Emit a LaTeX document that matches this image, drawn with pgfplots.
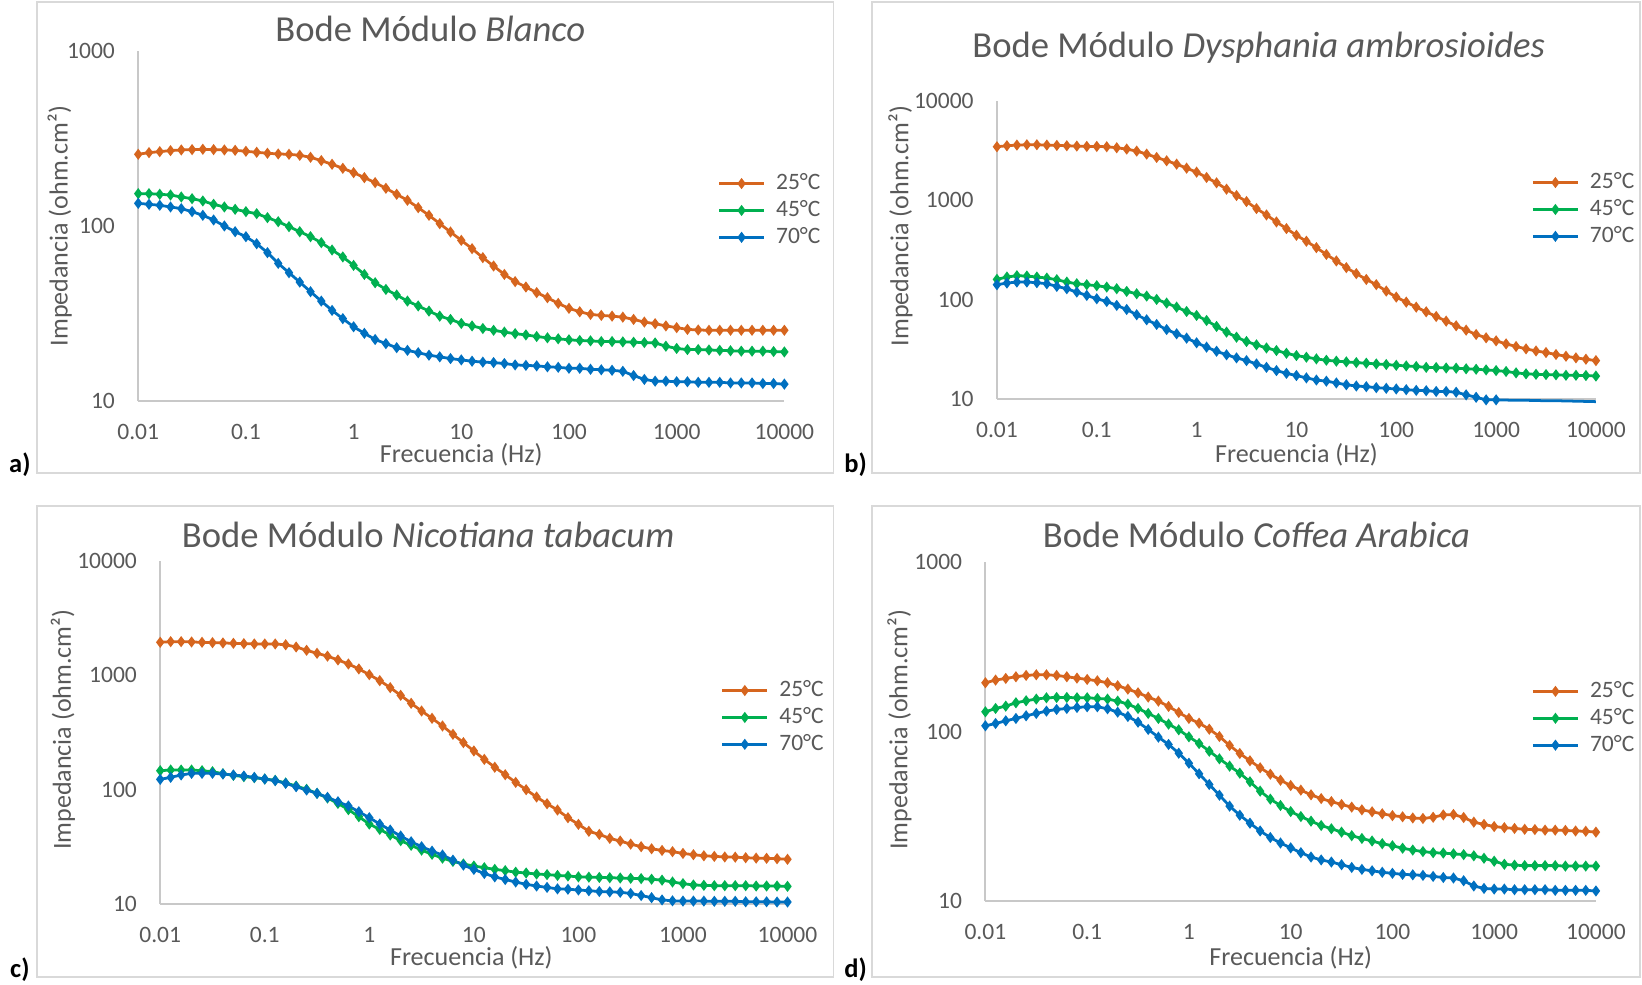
\documentclass[border=0pt]{standalone}
\usepackage{fontspec}
\setmainfont{Carlito}
\usepackage{pgfplots}
\usepackage{pgfplotstable}
\pgfplotsset{compat=1.18}

\definecolor{cA}{RGB}{214,101,30}
\definecolor{cB}{RGB}{0,176,80}
\definecolor{cC}{RGB}{0,112,192}
\definecolor{txtgray}{RGB}{89,89,89}
\definecolor{axisgray}{RGB}{200,200,200}
\definecolor{framegray}{RGB}{217,217,217}

\pgfplotstableread{
f t25 t45 t70
0.01 257.7 153.5 135.1
0.012589 263.4 153.5 133.4
0.015849 266.9 152.2 131.7
0.019953 270.5 150.8 128.8
0.025119 272.9 146.9 126.0
0.031623 274.1 143.7 121.1
0.039811 275.3 139.4 115.4
0.050119 274.1 133.4 108.5
0.063096 272.9 128.8 100.3
0.079433 271.6 124.9 93.0
0.1 268.1 121.1 87.1
0.12589 264.6 117.9 79.4
0.15849 261.2 111.9 70.6
0.19953 258.8 106.1 61.3
0.25119 257.7 99.4 54.2
0.31623 254.3 93.0 47.9
0.39811 247.7 87.1 42.2
0.50119 237.1 80.5 37.3
0.63096 225.9 73.1 33.0
0.79433 214.3 66.7 29.6
1 202.4 59.7 26.6
1.2589 189.5 53.0 24.4
1.5849 177.5 47.5 22.5
1.9953 164.7 43.5 21.3
2.5119 152.2 40.4 20.2
3.1623 140.6 37.3 19.5
3.9811 127.6 35.0 18.9
5.0119 115.4 32.7 18.3
6.3096 103.4 30.6 17.9
7.9433 92.6 29.3 17.5
10 83.0 27.8 17.2
12.589 74.4 26.9 16.9
15.849 66.1 26.0 16.7
19.953 59.2 25.4 16.6
25.119 53.0 24.8 16.4
31.623 48.2 24.3 16.1
39.811 44.9 23.9 16.0
50.119 41.7 23.4 15.9
63.096 39.0 23.0 15.7
79.433 36.2 22.7 15.6
100 33.9 22.4 15.4
125.89 32.4 22.2 15.4
158.49 31.3 22.1 15.2
199.53 30.9 21.9 15.1
251.19 30.6 21.9 15.0
316.23 30.2 21.8 14.8
398.11 29.3 21.7 14.0
501.19 28.3 21.6 13.3
630.96 27.7 21.5 13.0
794.33 26.9 20.6 13.0
1000 26.3 20.0 12.9
1258.9 25.7 19.7 12.9
1584.9 25.5 19.7 12.8
1995.3 25.4 19.6 12.8
2511.9 25.4 19.5 12.8
3162.3 25.4 19.4 12.7
3981.1 25.4 19.3 12.7
5011.9 25.4 19.3 12.7
6309.6 25.4 19.3 12.6
7943.3 25.4 19.2 12.6
10000 25.4 19.1 12.5
}\tabA

\pgfplotstableread{
f t25 t45 t70
0.01 3430 159.3 140.8
0.012589 3511 168.2 146.3
0.015849 3565 173.4 149.7
0.019953 3593 172.1 149.7
0.025119 3593 168.2 147.5
0.031623 3565 164.3 144.0
0.039811 3538 158.1 135.4
0.050119 3511 149.7 128.3
0.063096 3484 144.0 118.7
0.079433 3457 140.8 109.9
0.1 3457 137.5 101.7
0.12589 3430 133.3 95.6
0.15849 3352 128.3 87.2
0.19953 3250 120.6 79.4
0.25119 3102 114.2 70.2
0.31623 2894 108.2 62.5
0.39811 2678 100.2 56.1
0.50119 2479 92.0 49.9
0.63096 2294 83.8 45.2
0.79433 2091 75.8 40.9
1 1906 69.1 36.7
1.2589 1684 61.5 33.2
1.5849 1488 53.6 30.2
1.9953 1285 47.0 27.8
2.5119 1109 41.8 25.9
3.1623 965 37.8 24.3
3.9811 820 35.0 22.5
5.0119 708 32.6 20.8
6.3096 602 30.7 19.3
7.9433 516 28.8 18.1
10 442 27.3 17.2
12.589 385 26.3 16.3
15.849 332 25.3 15.5
19.953 284 24.5 15.1
25.119 244 24.0 14.5
31.623 209 23.6 13.9
39.811 182 23.2 13.5
50.119 159 22.9 13.3
63.096 141 22.5 13.0
79.433 121.5 22.2 12.8
100 105.7 21.8 12.6
125.89 94.1 21.5 12.4
158.49 83.8 21.2 12.2
199.53 75.2 20.8 12.1
251.19 67.5 20.7 11.9
316.23 60.6 20.5 11.9
398.11 54.4 20.4 11.7
501.19 49.2 20.1 11.0
630.96 44.5 19.9 10.4
794.33 41.2 19.6 9.8
1000 38.4 19.3 9.8
1258.9 35.8 18.9 9.75
1584.9 33.7 18.3 9.7
1995.3 31.9 17.9 9.7
2511.9 30.4 17.7 9.65
3162.3 29.3 17.6 9.6
3981.1 28.0 17.5 9.6
5011.9 26.9 17.3 9.55
6309.6 25.9 17.3 9.5
7943.3 25.1 17.2 9.45
10000 24.3 17.0 9.4
}\tabB

\pgfplotstableread{
f t25 t45 t70
0.01 1952 146.4 122.9
0.012589 1978 148.4 128.0
0.015849 1978 148.4 134.2
0.019953 1965 148.4 138.8
0.025119 1952 146.4 138.8
0.031623 1939 143.5 138.8
0.039811 1926 137.8 136.9
0.050119 1913 133.3 134.2
0.063096 1900 129.8 131.5
0.079433 1887 127.2 128.0
0.1 1887 123.8 123.8
0.12589 1887 120.5 119.7
0.15849 1856 114.2 113.4
0.19953 1776 107.5 106.0
0.25119 1661 100.5 99.1
0.31623 1563 92.7 92.7
0.39811 1476 84.4 85.5
0.50119 1367 75.7 78.3
0.63096 1260 66.7 71.8
0.79433 1140 57.9 64.0
1 1016 49.9 56.7
1.2589 900 44.8 49.9
1.5849 782 40.0 44.2
1.9953 670 35.7 39.2
2.5119 570 32.5 34.9
3.1623 488 29.5 31.6
3.9811 421 27.1 28.9
5.0119 361 25.1 26.7
6.3096 305 23.5 24.1
7.9433 258 22.3 21.8
10 218 21.4 20.0
12.589 184 20.7 18.4
15.849 157 20.0 17.2
19.953 135 19.5 16.3
25.119 115.7 18.9 15.5
31.623 99.8 18.6 14.8
39.811 86.1 18.2 14.3
50.119 75.2 18.0 13.9
63.096 66.2 17.7 13.5
79.433 56.7 17.5 13.4
100 49.6 17.2 13.2
125.89 43.1 17.1 13.0
158.49 40.5 17.0 12.8
199.53 37.4 16.9 12.7
251.19 35.4 16.8 12.6
316.23 33.3 16.7 12.3
398.11 31.6 16.6 11.8
501.19 30.3 16.4 11.3
630.96 29.3 16.1 10.8
794.33 28.6 15.5 10.6
1000 27.6 15.0 10.55
1258.9 26.9 14.6 10.55
1584.9 26.3 14.5 10.55
1995.3 26.0 14.4 10.5
2511.9 25.7 14.4 10.5
3162.3 25.6 14.4 10.5
3981.1 25.3 14.4 10.4
5011.9 25.1 14.3 10.4
6309.6 25.0 14.3 10.4
7943.3 24.8 14.3 10.35
10000 24.5 14.2 10.35
}\tabC

\pgfplotstableread{
f t25 t45 t70
0.01 194.1 130.7 108.0
0.012589 201.3 136.8 111.5
0.015849 205.9 141.2 115.6
0.019953 210.6 147.8 119.4
0.025119 214.5 151.9 123.8
0.031623 216.4 155.4 127.8
0.039811 216.4 158.2 131.9
0.050119 214.5 158.9 134.9
0.063096 210.6 158.9 136.8
0.079433 206.8 158.2 138.7
0.1 203.1 158.2 140.0
0.12589 199.4 156.8 140.0
0.15849 194.1 155.4 136.2
0.19953 186.3 151.2 130.1
0.25119 178.0 145.1 122.7
0.31623 169.3 136.8 113.5
0.39811 159.7 127.8 102.8
0.50119 151.2 119.4 92.6
0.63096 140.6 110.5 83.8
0.79433 129.5 102.3 74.4
1 119.4 93.0 64.9
1.2589 112.0 84.9 56.2
1.5849 103.2 76.5 48.6
1.9953 93.4 68.9 42.0
2.5119 82.7 62.4 36.2
3.1623 74.1 56.7 32.0
3.9811 67.1 50.4 28.7
5.0119 61.0 44.4 25.8
6.3096 55.9 39.8 23.6
7.9433 51.5 36.5 21.9
10 47.9 33.6 20.5
12.589 45.0 31.4 19.2
15.849 42.2 29.5 18.1
19.953 40.1 27.8 17.4
25.119 38.5 26.6 16.9
31.623 37.0 25.4 16.3
39.811 35.7 24.2 15.7
50.119 34.4 23.3 15.3
63.096 33.5 22.5 15.0
79.433 32.6 21.7 14.7
100 31.8 21.1 14.5
125.89 31.3 20.4 14.3
158.49 30.8 19.9 14.2
199.53 30.6 19.5 14.1
251.19 31.1 19.2 13.9
316.23 32.1 19.1 13.7
398.11 32.3 18.9 13.6
501.19 31.0 18.7 13.1
630.96 29.1 18.4 12.2
794.33 28.2 17.8 11.8
1000 27.4 17.1 11.7
1258.9 27.0 16.4 11.7
1584.9 26.7 16.2 11.6
1995.3 26.4 16.1 11.6
2511.9 26.3 16.1 11.6
3162.3 26.1 16.1 11.6
3981.1 26.1 16.1 11.5
5011.9 26.0 16.0 11.5
6309.6 25.8 16.0 11.5
7943.3 25.7 16.0 11.5
10000 25.4 16.0 11.4
}\tabD

\def\uu{0.4545pt}

\pgfplotsset{
  legend image code/.code={%
    \draw[mark repeat=2,mark phase=2,#1] plot coordinates {(0pt,0pt) (9.8pt,0pt) (19.6pt,0pt)};%
  },
}

\pgfplotsset{
  every axis/.append style={
    scale only axis, clip=false,
    xmin=0.01, xmax=10000,
    xtick={0.01,0.1,1,10,100,1000,10000},
    xticklabels={0.01,0.1,1,10,100,1000,10000},
    axis x line*=bottom, axis y line*=left,
    axis line style={draw=axisgray, line width=0.8pt},
    major tick length=0pt, minor tick length=0pt,
    tick label style={font=\fontsize{10.2}{12}\selectfont, text=txtgray},
    xticklabel style={yshift=-6.6pt},
    yticklabel style={xshift=-6.6pt},
    label style={font=\fontsize{11.3}{13}\selectfont, text=txtgray},
    every axis title shift=0pt,
    title style={font=\fontsize{15.9}{18}\selectfont, text=txtgray, anchor=center, yshift=0pt},
    xlabel={Frecuencia (Hz)},
    ylabel={Impedancia (ohm.cm²)},
    legend cell align=left,
    legend style={draw=none, fill=none, inner sep=0pt, anchor=west,
      font=\fontsize{10.2}{12}\selectfont, text=txtgray, row sep=3.2pt,
      nodes={inner sep=0pt},
      /tikz/every odd column/.append style={column sep=4.6pt}},
  },
  s25/.style={color=cA, line width=1.2pt, mark=diamond*, mark size=1.45pt, mark options={solid}},
  s45/.style={color=cB, line width=1.2pt, mark=diamond*, mark size=1.45pt, mark options={solid}},
  s70/.style={color=cC, line width=1.2pt, mark=diamond*, mark size=1.45pt, mark options={solid}},
}

\begin{document}
\begin{tikzpicture}
\useasboundingbox (0,0) rectangle ({1568*\uu},{-940*\uu});
\draw[framegray, line width=0.8pt] ({35*\uu},{-2*\uu}) rectangle ({796*\uu},{-452*\uu});
\draw[framegray, line width=0.8pt] ({833*\uu},{-2*\uu}) rectangle ({1566*\uu},{-452*\uu});
\draw[framegray, line width=0.8pt] ({35*\uu},{-483*\uu}) rectangle ({796*\uu},{-933*\uu});
\draw[framegray, line width=0.8pt] ({833*\uu},{-483*\uu}) rectangle ({1566*\uu},{-933*\uu});

\begin{loglogaxis}[at={({132*\uu},{-383*\uu})}, anchor=south west,
  width=280.43pt, height=151.80pt,
  ymin=10, ymax=1000, ytick={10,100,1000}, yticklabels={10,100,1000},
  title={Bode Módulo \textit{Blanco}},
  title style={at={(axis description cs:0.452,1.063)}},
  xlabel style={at={(axis description cs:0.5,-0.1527)}, anchor=center},
  ylabel style={at={(axis description cs:-0.1216,0.5)}, anchor=center},
  legend style={at={(axis description cs:0.896,0.545)}}]
\addplot[s25] table[x=f,y=t25] {\tabA}; \addlegendentry{25°C}
\addplot[s45] table[x=f,y=t45] {\tabA}; \addlegendentry{45°C}
\addplot[s70] table[x=f,y=t70] {\tabA}; \addlegendentry{70°C}
\end{loglogaxis}

\begin{loglogaxis}[at={({952*\uu},{-381*\uu})}, anchor=south west,
  width=259.97pt, height=129.53pt,
  ymin=10, ymax=10000, ytick={10,100,1000,10000}, yticklabels={10,100,1000,10000},
  title={Bode Módulo \textit{Dysphania ambrosioides}},
  title style={at={(axis description cs:0.437,1.176)}},
  xlabel style={at={(axis description cs:0.5,-0.186)}, anchor=center},
  ylabel style={at={(axis description cs:-0.161,0.579)}, anchor=center},
  legend style={at={(axis description cs:0.8916,0.635)}}]
\addplot[s25] table[x=f,y=t25] {\tabB}; \addlegendentry{25°C}
\addplot[s45] table[x=f,y=t45] {\tabB}; \addlegendentry{45°C}
\addplot[s70, skip coords between index={51}{61}] table[x=f,y=t70] {\tabB}; \addlegendentry{70°C}
\addplot[color=cC, line width=1.2pt, no marks, forget plot, skip coords between index={0}{50}] table[x=f,y=t70] {\tabB};
\end{loglogaxis}

\begin{loglogaxis}[at={({153*\uu},{-863*\uu})}, anchor=south west,
  width=272.25pt, height=148.62pt,
  ymin=10, ymax=10000, ytick={10,100,1000,10000}, yticklabels={10,100,1000,10000},
  title={Bode Módulo \textit{Nicotiana tabacum}},
  title style={at={(axis description cs:0.427,1.076)}},
  xlabel style={at={(axis description cs:0.496,-0.159)}, anchor=center},
  ylabel style={at={(axis description cs:-0.155,0.508)}, anchor=center},
  legend style={at={(axis description cs:0.893,0.544)}}]
\addplot[s25] table[x=f,y=t25] {\tabC}; \addlegendentry{25°C}
\addplot[s45] table[x=f,y=t45] {\tabC}; \addlegendentry{45°C}
\addplot[s70] table[x=f,y=t70] {\tabC}; \addlegendentry{70°C}
\end{loglogaxis}

\begin{loglogaxis}[at={({941*\uu},{-860*\uu})}, anchor=south west,
  width=264.97pt, height=146.80pt,
  ymin=10, ymax=1000, ytick={10,100,1000}, yticklabels={10,100,1000},
  title={Bode Módulo \textit{Coffea Arabica}},
  title style={at={(axis description cs:0.444,1.080)}},
  xlabel style={at={(axis description cs:0.5,-0.170)}, anchor=center},
  ylabel style={at={(axis description cs:-0.141,0.505)}, anchor=center},
  legend style={at={(axis description cs:0.8937,0.539)}}]
\addplot[s25] table[x=f,y=t25] {\tabD}; \addlegendentry{25°C}
\addplot[s45] table[x=f,y=t45] {\tabD}; \addlegendentry{45°C}
\addplot[s70] table[x=f,y=t70] {\tabD}; \addlegendentry{70°C}
\end{loglogaxis}

\node[font=\bfseries\fontsize{11.5}{13}\selectfont] at ({19*\uu},{-444*\uu}) {a)};
\node[font=\bfseries\fontsize{11.5}{13}\selectfont] at ({817*\uu},{-444*\uu}) {b)};
\node[font=\bfseries\fontsize{11.5}{13}\selectfont] at ({19*\uu},{-926*\uu}) {c)};
\node[font=\bfseries\fontsize{11.5}{13}\selectfont] at ({817*\uu},{-926*\uu}) {d)};
\end{tikzpicture}
\end{document}
